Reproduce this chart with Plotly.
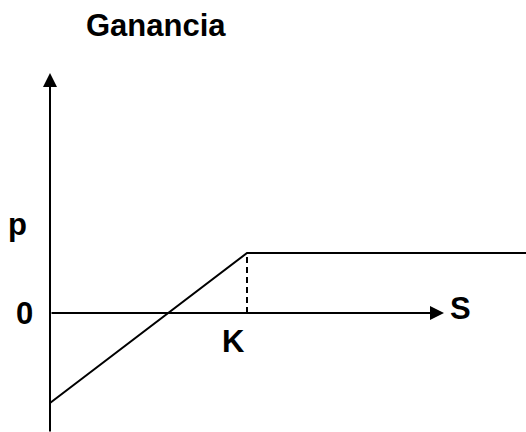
"""Perfil de ganancia de una put vendida (diagrama esquemático)."""

import plotly.graph_objects as go

# ---------------------------------------------------------------------------
# Data (S en el eje horizontal, ganancia en el vertical)
# ---------------------------------------------------------------------------

strike = 10
premium = 4

payoff_s = [0, strike, 25]
payoff_profit = [premium - strike, premium, premium]

strike_s = [strike, strike]
strike_profit = [0, premium]

s_axis = [0, 20]          # eje S: inicio, punta de flecha
profit_axis = [-8, 16]    # eje ganancia: inicio, punta de flecha

label_text = ["p", "0", "K", "S"]
label_s = [-1.65, -1.27, 9.29, 20.86]
label_profit = [5.9, 0.0, -1.93, 0.27]

title_text = "Ganancia"
title_s, title_profit = 5.38, 19.14

# ---------------------------------------------------------------------------
# Figure
# ---------------------------------------------------------------------------

FONT = dict(family="Arial, Liberation Sans, sans-serif", size=31, color="black", weight="bold")
LINE = dict(color="black", width=2)

fig = go.Figure()
fig.add_trace(go.Scatter(x=payoff_s, y=payoff_profit, mode="lines", line=LINE, hoverinfo="skip"))
fig.add_trace(go.Scatter(x=strike_s, y=strike_profit, mode="lines",
                         line=dict(color="black", width=2, dash="6px,4px"), hoverinfo="skip"))

# axes with arrowheads
fig.add_annotation(x=s_axis[1], y=0, ax=s_axis[0], ay=0, xref="x", yref="y", axref="x", ayref="y",
                   text="", showarrow=True, arrowhead=2, arrowsize=1.4, arrowwidth=2, arrowcolor="black")
fig.add_annotation(x=0, y=profit_axis[1], ax=0, ay=profit_axis[0], xref="x", yref="y", axref="x", ayref="y",
                   text="", showarrow=True, arrowhead=2, arrowsize=1.4, arrowwidth=2, arrowcolor="black")

for txt, sx, py in zip(label_text, label_s, label_profit):
    fig.add_annotation(x=sx, y=py, text=txt, showarrow=False, font=FONT,
                       xanchor="center", yanchor="middle")
fig.add_annotation(x=title_s, y=title_profit, text=title_text, showarrow=False, font=FONT,
                   xanchor="center", yanchor="middle")

fig.update_layout(
    width=526, height=432,
    margin=dict(l=0, r=0, t=0, b=0),
    paper_bgcolor="white", plot_bgcolor="white",
    showlegend=False,
    xaxis=dict(range=[-50 / 19.7, 476 / 19.7], visible=False, fixedrange=True),
    yaxis=dict(range=[-119 / 15, 313 / 15], visible=False, fixedrange=True),
)

# page body has an 8px default margin; drop it so the figure sits at 0,0
fig.write_html("out.html", config={"displayModeBar": False},
               post_script="document.body.style.margin = '0';")
